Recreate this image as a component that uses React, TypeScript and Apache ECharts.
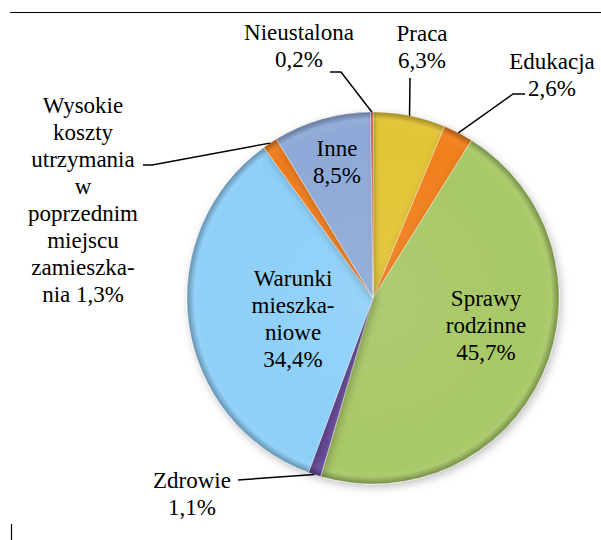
import React, { useEffect, useRef, useState } from "react";
import * as echarts from "echarts";

// ---- Data ----
const categories: string[] = [
  "Praca",
  "Edukacja",
  "Sprawy rodzinne",
  "Zdrowie",
  "Warunki mieszkaniowe",
  "Wysokie koszty utrzymania w poprzednim miejscu zamieszkania",
  "Inne",
  "Nieustalona",
];
const shares: number[] = [6.3, 2.6, 45.7, 1.1, 34.4, 1.3, 8.5, 0.2];
// label text templates, '#' is replaced by the formatted value
const labelTemplates: string[] = [
  "Praca\n#",
  "Edukacja\n#",
  "Sprawy\nrodzinne\n#",
  "Zdrowie\n#",
  "Warunki\nmieszka-\nniowe\n#",
  "Wysokie\nkoszty\nutrzymania\nw\npoprzednim\nmiejscu\nzamieszka-\nnia #",
  "Inne\n#",
  "Nieustalona\n#",
];

// ---- Styling / layout ----
const FONT = "Liberation Serif";
const sliceColors: string[] = [
  "#E3C434",
  "#F07F1C",
  "#A7C866",
  "#6A4C9C",
  "#8DCFF8",
  "#EE7C1E",
  "#8EA9D7",
  "#C0504D",
];
const CX = 373;
const CY = 298;
const R = 186;
const labelPos: [number, number][] = [
  [422, 47],
  [552, 75],
  [486, 325],
  [192, 494],
  [293, 319],
  [83, 200],
  [337, 162],
  [299, 46],
];
// where each leader line meets its label, and the optional horizontal elbow
const leaderAnchor: ([number, number] | null)[] = [
  [410, 78],
  [525, 94],
  null,
  [238, 480],
  null,
  [143, 165],
  null,
  [330, 72],
];
const leaderElbowX: (number | null)[] = [null, 513, null, null, null, 152, null, 341];

function shade(hex: string, f: number): string {
  const n = parseInt(hex.slice(1), 16);
  let r = (n >> 16) & 255, g = (n >> 8) & 255, b = n & 255;
  const adj = (c: number) =>
    Math.max(0, Math.min(255, Math.round(f < 0 ? c * (1 + f) : c + (255 - c) * f)));
  r = adj(r); g = adj(g); b = adj(b);
  return "rgb(" + r + "," + g + "," + b + ")";
}

const fmt = (v: number) => v.toFixed(1).replace(".", ",") + "%";

function buildOption() {
  const total = shares.reduce((a, b) => a + b, 0);
  const midAngle = (i: number) => {
    let acc = 0;
    for (let k = 0; k < i; k++) acc += shares[k];
    return ((acc + shares[i] / 2) / total) * Math.PI * 2;
  };
  const data = categories.map((name, i) => ({
    name,
    value: shares[i],
    itemStyle: {
      color: {
        type: "radial",
        x: CX,
        y: CY,
        r: R,
        global: true,
        colorStops: [
          { offset: 0, color: shade(sliceColors[i], 0.08) },
          { offset: 0.9, color: sliceColors[i] },
          { offset: 0.96, color: shade(sliceColors[i], 0.05) },
          { offset: 1, color: shade(sliceColors[i], -0.3) },
        ],
      },
    },
  }));
  const labelTexts: any[] = categories.map((_, i) => ({
    type: "text",
    z: 100,
    x: labelPos[i][0],
    y: labelPos[i][1],
    style: {
      text: labelTemplates[i].replace("#", fmt(shares[i])),
      fontFamily: FONT,
      fontSize: 23,
      lineHeight: 27,
      fill: "#000",
      align: "center",
      verticalAlign: "middle",
    },
  }));
  const leaders: any[] = [];
  categories.forEach((_, i) => {
    const anchor = leaderAnchor[i];
    if (!anchor) return;
    const a = midAngle(i);
    const pts: number[][] = [[CX + R * Math.sin(a), CY - R * Math.cos(a)]];
    const ex = leaderElbowX[i];
    if (ex != null) pts.push([ex, anchor[1]]);
    pts.push([anchor[0], anchor[1]]);
    leaders.push({
      type: "polyline",
      z: 100,
      shape: { points: pts },
      style: { stroke: "#000", lineWidth: 1.5, fill: null },
    });
  });
  return {
    animation: false,
    textStyle: { fontFamily: FONT },
    graphic: [
      {
        type: "line",
        shape: { x1: 10, y1: 12.5, x2: 601, y2: 12.5 },
        style: { stroke: "#000", lineWidth: 1.2 },
      },
      {
        type: "line",
        shape: { x1: 11.5, y1: 524, x2: 11.5, y2: 540 },
        style: { stroke: "#000", lineWidth: 1.2 },
      },
      ...leaders,
      ...labelTexts,
    ],
    series: [
      {
        type: "pie",
        center: [CX, CY],
        radius: [0, R],
        startAngle: 90,
        clockwise: true,
        avoidLabelOverlap: false,
        data,
        itemStyle: {
          borderColor: "rgba(255,255,255,0.35)",
          borderWidth: 1,
          shadowBlur: 8,
          shadowOffsetX: 2,
          shadowOffsetY: 3,
          shadowColor: "rgba(0,0,0,0.25)",
        },
        label: { show: false },
        labelLine: { show: false },
        emphasis: { disabled: true },
      },
    ],
  };
}

export default function App() {
  const ref = useRef<HTMLDivElement>(null);
  const [tick, setTick] = useState(0);
  useEffect(() => {
    if (!ref.current) return;
    document.body.style.margin = "0";
    const chart = echarts.init(ref.current, null, { renderer: "svg" });
    chart.setOption(buildOption());
    setTick(1);
    let alive = true;
    const refresh = () => {
      if (!alive) return;
      chart.setOption(buildOption(), true);
    };
    try {
      const fs: any = (document as any).fonts;
      if (fs && fs.load) {
        fs.load('23px "Liberation Serif"').then(refresh, refresh);
        fs.ready.then(refresh, refresh);
      }
    } catch (e) {}
    return () => {
      alive = false;
      chart.dispose();
    };
  }, []);
  return (
    <div>
      <div ref={ref} style={{ width: 601, height: 540 }} />
      <span
        aria-hidden="true"
        data-t={tick}
        style={{ position: "absolute", left: -9999, top: 0, fontFamily: FONT, fontSize: 23 }}
      >
        Praca
      </span>
    </div>
  );
}
